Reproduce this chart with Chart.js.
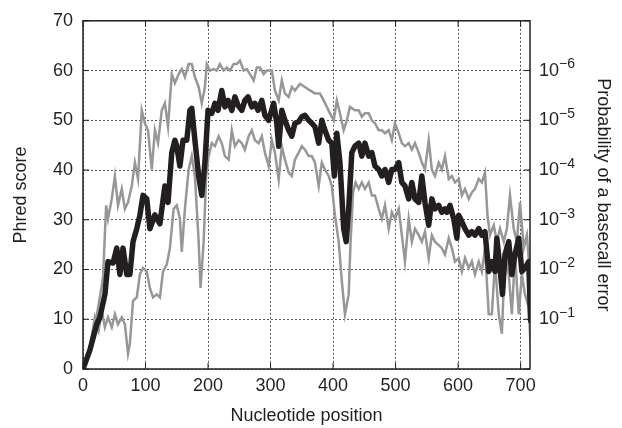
<html>
<head>
  <title>Phred score by nucleotide position</title>
  <script src="https://cdn.jsdelivr.net/npm/chart.js"></script>
  <style>
    body { margin: 0; background: #fff; }
  </style>
</head>
<body>
  <canvas id="phredChart" width="622" height="428"></canvas>

  <script>
    // mean Phred score (thick black line)
    const meanPos = [0, 11, 22, 27, 35, 40, 48, 54, 59, 64, 70, 75, 80, 86, 91, 96, 102, 107, 115, 123, 131, 136, 142, 147, 150, 155, 160, 166, 171, 174, 179, 185, 190, 195, 200, 206, 211, 216, 222, 227, 232, 238, 243, 248, 254, 259, 264, 270, 275, 280, 286, 291, 297, 305, 310, 313, 318, 323, 329, 334, 339, 345, 350, 355, 361, 366, 371, 377, 382, 387, 393, 398, 402, 406, 411, 417, 421, 425, 430, 435, 441, 446, 451, 457, 462, 467, 473, 478, 483, 489, 494, 499, 505, 510, 515, 521, 526, 531, 537, 542, 547, 553, 558, 563, 569, 574, 579, 582, 587, 593, 598, 601, 606, 611, 617, 622, 627, 633, 638, 643, 649, 654, 659, 662, 667, 671, 675, 681, 686, 691, 697, 702, 707, 713, 716];
    const meanScore = [0, 3.8, 9, 10.4, 15, 21.6, 21.3, 24.3, 19, 24.3, 19, 19, 25.6, 28.2, 30.9, 34.9, 34.2, 28.2, 31, 29.2, 36.8, 33.5, 43.5, 46, 44.8, 40.8, 46, 46, 52, 52.4, 46, 38.8, 34.9, 41.5, 52, 51.4, 53.4, 52, 56, 52.7, 54, 52, 54.7, 53, 52, 54, 54.7, 52.7, 53.4, 52, 54, 51, 50, 53.4, 49.4, 44.8, 52, 50, 48, 46.8, 49.4, 49.7, 50.7, 51, 50, 49.4, 48.7, 45.4, 50, 48, 46, 45.4, 38.8, 47.4, 41.5, 28.2, 25.6, 32.2, 43.5, 44.8, 45.4, 42.8, 45.4, 42.8, 43.5, 40.8, 40.1, 38.8, 40.1, 37.5, 40.1, 40.1, 41.5, 37.5, 36.8, 34.2, 37.5, 34.2, 33.5, 38.8, 33.5, 28.9, 34.2, 32.2, 32.9, 31.5, 32.2, 31.5, 32.9, 30.2, 26.3, 30.9, 29.6, 28.2, 26.9, 27.6, 26.9, 28.2, 26.9, 27.6, 19.6, 21.6, 19.6, 26.3, 20.3, 15, 23, 25.6, 19, 23, 26.3, 19.6, 20.3, 21.6, 9.7];

    // upper band (grey)
    const upperPos = [0, 17, 25, 32, 37, 40, 46, 51, 56, 62, 67, 72, 78, 83, 88, 94, 99, 104, 110, 115, 120, 126, 131, 136, 142, 147, 153, 158, 163, 169, 174, 179, 185, 190, 195, 198, 203, 209, 214, 219, 225, 230, 235, 241, 246, 251, 257, 262, 267, 273, 278, 283, 289, 294, 302, 307, 313, 318, 323, 329, 334, 339, 347, 355, 363, 371, 379, 385, 390, 395, 401, 406, 411, 417, 422, 427, 435, 441, 446, 451, 457, 462, 467, 473, 478, 483, 489, 494, 499, 505, 510, 515, 521, 526, 531, 537, 542, 547, 553, 558, 563, 569, 574, 579, 585, 590, 595, 601, 606, 611, 617, 622, 627, 633, 638, 643, 647, 651, 657, 662, 667, 673, 678, 683, 689, 694, 699, 705, 710, 715];
    const upperScore = [0, 7, 13, 18.3, 32.9, 30.2, 34.2, 38.8, 32.9, 36.2, 32.2, 33.5, 36.8, 41.5, 38.2, 52, 49.4, 48, 40.1, 48, 45.4, 52, 53.4, 48.7, 59.3, 57.5, 59.3, 60.3, 58.7, 61.3, 61.3, 58.7, 56.7, 53.4, 56.7, 61.3, 60, 60.3, 60, 61.3, 60, 60.6, 60, 61.3, 61.3, 62, 60, 60.3, 59.3, 58, 60.6, 60.6, 59.3, 60, 60, 56, 54, 58, 55.4, 54.7, 56.7, 56, 57.3, 56.7, 56, 55.4, 55.4, 54, 52.7, 51.4, 50, 54, 51.4, 48, 50, 52.7, 52, 52, 50.7, 51.4, 51.4, 50, 49.4, 48, 48, 47.4, 48, 46, 49.4, 47.4, 45.4, 44.8, 45.4, 44.1, 45.4, 43.5, 41.5, 40.1, 46, 40.1, 38.8, 41.5, 40.1, 42.8, 38.2, 38.8, 37.5, 38.2, 34.9, 36.2, 34.2, 35.5, 36.2, 38.2, 37.5, 39.5, 30.9, 26.9, 28.9, 25.6, 28.2, 25.6, 28.2, 34.9, 28.2, 25.6, 33.5, 24.3, 26.9, 19];

    // lower band (grey)
    const lowerPos = [0, 11, 19, 25, 30, 35, 40, 46, 51, 56, 62, 67, 72, 75, 80, 86, 91, 96, 102, 107, 112, 118, 123, 128, 134, 139, 145, 150, 155, 158, 163, 169, 174, 179, 185, 188, 193, 197, 201, 206, 211, 217, 222, 227, 233, 238, 243, 249, 254, 259, 265, 270, 275, 281, 286, 291, 297, 302, 307, 313, 318, 323, 329, 334, 339, 345, 350, 355, 361, 366, 371, 377, 382, 387, 393, 398, 403, 409, 414, 419, 425, 428, 432, 436, 441, 446, 451, 457, 462, 467, 473, 478, 483, 489, 494, 499, 505, 510, 515, 521, 526, 531, 537, 542, 547, 553, 558, 563, 569, 574, 579, 585, 590, 595, 601, 606, 611, 617, 622, 627, 633, 638, 643, 649, 654, 659, 665, 670, 675, 681, 686, 691, 697, 702, 707, 713, 716];
    const lowerScore = [0, 4.4, 10.4, 7.7, 11.7, 8.4, 10.4, 8.4, 11, 9, 10.4, 9, 3.1, 5.1, 13.7, 14.4, 19, 20.3, 19.6, 16.3, 14.4, 15, 14.4, 19.6, 21, 24.3, 32.2, 32.9, 30.2, 23.6, 32.2, 40.1, 42.8, 38.8, 25.6, 16.3, 25.6, 38.8, 42.8, 45.4, 44.8, 46.8, 45.4, 42.8, 42.1, 48, 44.8, 46, 45.4, 44.1, 46.8, 48, 46, 45.4, 46.8, 43.5, 40.8, 46, 43.5, 38.1, 44.8, 42.1, 39.5, 38.8, 42.1, 43.5, 44.8, 44.1, 42.8, 42.8, 41.5, 36.8, 41.5, 40.1, 38.8, 36.8, 30.9, 25.6, 17.7, 11, 15, 25.6, 35.5, 37.5, 36.2, 37.5, 36.2, 37.5, 34.9, 34.9, 32.2, 30.2, 32.9, 28.2, 31.5, 30.2, 32.2, 26.9, 21.6, 30.2, 25.6, 28.2, 26.9, 25.6, 27.6, 22.3, 26.9, 25.6, 24.9, 24.3, 23, 26.3, 24.3, 21.6, 22.3, 19.6, 22.3, 20.3, 21.6, 19, 21.6, 19.6, 24.3, 11, 11, 21.6, 11, 7.1, 23, 19, 11, 23, 11, 19, 15, 12.4, 4.4];

    // right axis: Phred value -> exponent of error probability
    const phredTicks = [10, 20, 30, 40, 50, 60];
    const errorExponents = [-1, -2, -3, -4, -5, -6];

    const ink = '#231f20';
    const grey = '#979797';
    const fontFamily = '"Liberation Sans", Arial, Helvetica, sans-serif';
    const fontSize = 18;

    const toPoints = (xs, ys) => xs.map((x, i) => ({ x: x, y: ys[i] }));

    // box around the plot, inward ticks and the 10^-n labels
    const framePlugin = {
      id: 'frame',
      afterDraw(chart) {
        const { ctx, chartArea: a, scales } = chart;
        ctx.save();
        ctx.strokeStyle = ink;
        ctx.lineWidth = 1.5;
        ctx.strokeRect(a.left, a.top, a.right - a.left, a.bottom - a.top);

        ctx.lineWidth = 1;
        ctx.beginPath();
        scales.y.ticks.forEach(t => {
          const py = scales.y.getPixelForValue(t.value);
          ctx.moveTo(a.left, py);
          ctx.lineTo(a.left + 6, py);
          ctx.moveTo(a.right, py);
          ctx.lineTo(a.right - 6, py);
        });
        scales.x.ticks.forEach(t => {
          const px = scales.x.getPixelForValue(t.value);
          ctx.moveTo(px, a.bottom);
          ctx.lineTo(px, a.bottom - 6);
          ctx.moveTo(px, a.top);
          ctx.lineTo(px, a.top + 6);
        });
        ctx.stroke();

        ctx.fillStyle = ink;
        ctx.textAlign = 'left';
        ctx.textBaseline = 'middle';
        phredTicks.forEach((v, i) => {
          const py = scales.y2.getPixelForValue(v);
          const left = a.right + 9;
          ctx.font = fontSize + 'px ' + fontFamily;
          ctx.fillText('10', left, py);
          const w = ctx.measureText('10').width;
          ctx.font = '14px ' + fontFamily;
          ctx.fillText('\u2212' + Math.abs(errorExponents[i]), left + w, py - 6);
        });
        ctx.restore();
      }
    };

    const gridStyle = { color: '#555', lineWidth: 1, drawTicks: false };

    new Chart(document.getElementById('phredChart'), {
      type: 'line',
      data: {
        datasets: [
          { label: 'Mean', data: toPoints(meanPos, meanScore), borderColor: ink, borderWidth: 5.5, borderJoinStyle: 'round', borderCapStyle: 'round' },
          { label: 'Upper', data: toPoints(upperPos, upperScore), borderColor: grey, borderWidth: 2.5 },
          { label: 'Lower', data: toPoints(lowerPos, lowerScore), borderColor: grey, borderWidth: 2.5 }
        ]
      },
      options: {
        responsive: false,
        animation: false,
        devicePixelRatio: 1,
        elements: { point: { radius: 0 }, line: { tension: 0, fill: false } },
        layout: { padding: { top: 16, left: 0, right: 0, bottom: 0 } },
        plugins: { legend: { display: false }, tooltip: { enabled: false } },
        scales: {
          x: {
            type: 'linear',
            min: 0,
            max: 715,
            grid: gridStyle,
            border: { display: false, dash: [2, 2] },
            ticks: { stepSize: 100, includeBounds: false, padding: 6, color: ink, font: { family: fontFamily, size: fontSize } },
            title: { display: true, text: 'Nucleotide position', color: ink, font: { family: fontFamily, size: fontSize }, padding: { top: 0, bottom: 1 } },
            afterFit: s => { s.height = 59; }
          },
          y: {
            min: 0,
            max: 70,
            grid: gridStyle,
            border: { display: false, dash: [2, 2] },
            ticks: { stepSize: 10, padding: 10, color: ink, font: { family: fontFamily, size: fontSize } },
            title: { display: true, text: 'Phred score', color: ink, font: { family: fontFamily, size: fontSize }, padding: { top: 10, bottom: 0 } },
            afterFit: s => { s.width = 83; }
          },
          y2: {
            position: 'right',
            min: 0,
            max: 70,
            grid: { drawOnChartArea: false, drawTicks: false },
            border: { display: false },
            ticks: { display: false, stepSize: 10 },
            title: { display: true, text: 'Probability of a basecall error', color: ink, font: { family: fontFamily, size: fontSize }, padding: { top: 8, bottom: 0 } },
            afterFit: s => { s.width = 92; }
          }
        }
      },
      plugins: [framePlugin]
    });
  </script>
</body>
</html>
